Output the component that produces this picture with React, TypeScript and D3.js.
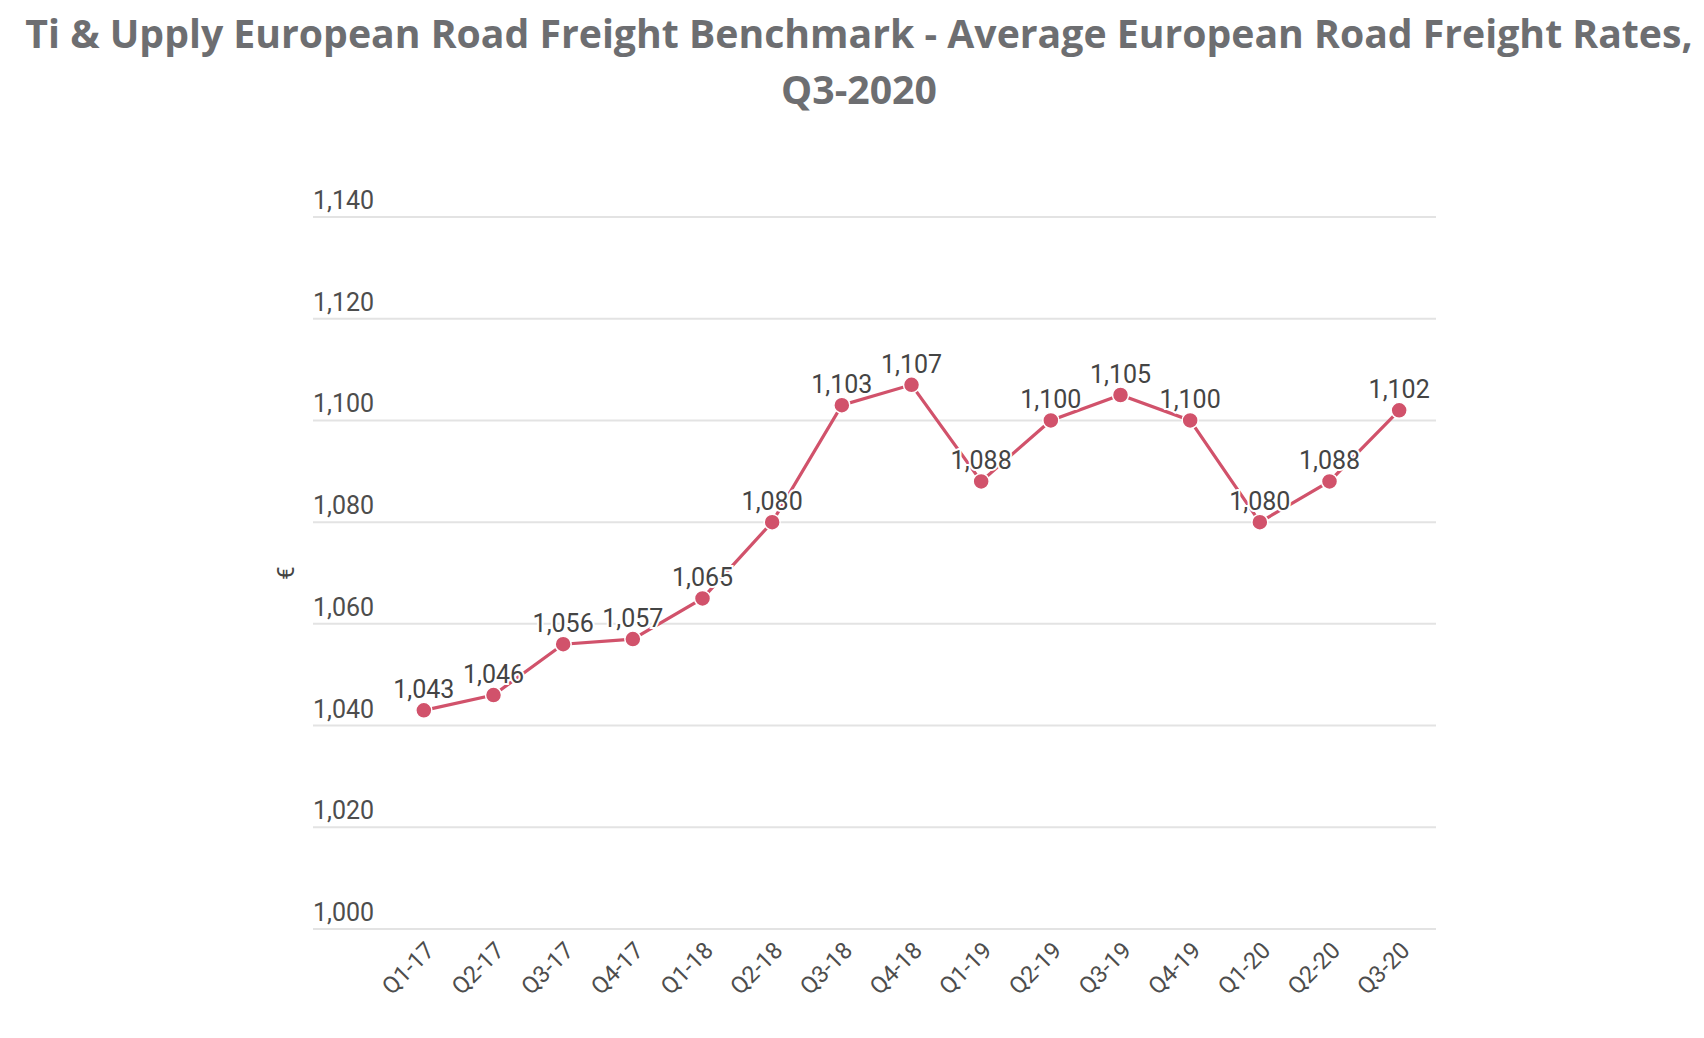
import { useEffect, useRef } from 'react';
import * as d3 from 'd3';

const quarters = [
  'Q1-17', 'Q2-17', 'Q3-17', 'Q4-17', 'Q1-18', 'Q2-18', 'Q3-18', 'Q4-18',
  'Q1-19', 'Q2-19', 'Q3-19', 'Q4-19', 'Q1-20', 'Q2-20', 'Q3-20',
];
const rates = [1043, 1046, 1056, 1057, 1065, 1080, 1103, 1107, 1088, 1100, 1105, 1100, 1080, 1088, 1102];
const yTicks = [1000, 1020, 1040, 1060, 1080, 1100, 1120, 1140];
const titleLines = [
  'Ti & Upply European Road Freight Benchmark - Average European Road Freight Rates,',
  'Q3-2020',
];

const W = 1704;
const H = 1038;
const RED = '#d1526b';

const App = () => {
  const ref = useRef<SVGSVGElement>(null);

  useEffect(() => {
    if (!ref.current) return;
    const svg = d3.select(ref.current);
    svg.selectAll('*').remove();

    const gridLeft = 313;
    const gridRight = 1436;
    const plotTop = 217;
    const plotBottom = 929;

    const x = d3.scaleBand<string>().domain(quarters).range([389, 1434]);
    const cx = (q: string) => (x(q) || 0) + x.bandwidth() / 2;
    const y = d3.scaleLinear().domain([1000, 1140]).range([plotBottom, plotTop]);
    const fmt = d3.format(',');

    // title
    svg.append('g')
      .selectAll('text')
      .data(titleLines)
      .enter()
      .append('text')
      .attr('x', 859)
      .attr('y', (_, i) => 48 + i * 56)
      .attr('text-anchor', 'middle')
      .style('font-family', '"Open Sans", sans-serif')
      .style('font-weight', 700)
      .style('font-size', '39.2px')
      .style('fill', '#6d6e71')
      .text(d => d);

    // grid + y labels
    const yAxis = svg.append('g');
    yAxis.selectAll('line')
      .data(yTicks)
      .enter()
      .append('line')
      .attr('x1', gridLeft)
      .attr('x2', gridRight)
      .attr('y1', d => y(d))
      .attr('y2', d => y(d))
      .attr('stroke', '#e3e3e3')
      .attr('stroke-width', 2);
    yAxis.selectAll('text')
      .data(yTicks)
      .enter()
      .append('text')
      .attr('x', gridLeft)
      .attr('y', d => y(d) - 8)
      .style('font-family', 'Roboto, sans-serif')
      .style('font-size', '25px')
      .style('fill', '#4d4d4d')
      .text(d => fmt(d));

    // y title
    svg.append('text')
      .attr('transform', `translate(294, ${(plotTop + plotBottom) / 2}) rotate(-90)`)
      .attr('text-anchor', 'middle')
      .style('font-family', 'Roboto, sans-serif')
      .style('font-size', '24px')
      .style('fill', '#444')
      .text('€');

    // x labels
    svg.append('g')
      .selectAll('text')
      .data(quarters)
      .enter()
      .append('text')
      .attr('transform', d => `translate(${cx(d) + 12}, 952) rotate(-45)`)
      .attr('text-anchor', 'end')
      .style('font-family', 'Roboto, sans-serif')
      .style('font-size', '23.5px')
      .style('fill', '#4d4d4d')
      .text(d => d);

    const pts = quarters.map((q, i) => ({ q, v: rates[i] }));

    const line = d3.line<{ q: string; v: number }>()
      .x(d => cx(d.q))
      .y(d => y(d.v));

    svg.append('path')
      .datum(pts)
      .attr('fill', 'none')
      .attr('stroke', RED)
      .attr('stroke-width', 3.2)
      .attr('d', line);

    svg.append('g')
      .selectAll('circle')
      .data(pts)
      .enter()
      .append('circle')
      .attr('cx', d => cx(d.q))
      .attr('cy', d => y(d.v))
      .attr('r', 8)
      .attr('fill', RED)
      .attr('stroke', '#fff')
      .attr('stroke-width', 1.5);

    // data labels with white halo
    svg.append('g')
      .selectAll('text')
      .data(pts)
      .enter()
      .append('text')
      .attr('x', d => cx(d.q))
      .attr('y', d => y(d.v) - 12)
      .attr('text-anchor', 'middle')
      .style('font-family', 'Roboto, sans-serif')
      .style('font-size', '25px')
      .style('fill', '#444')
      .style('stroke', '#fff')
      .style('stroke-width', 4)
      .style('paint-order', 'stroke')
      .text(d => fmt(d.v));
  }, []);

  return (
    <div style={{ position: 'absolute', left: 0, top: 0, background: '#fff' }}>
      <svg ref={ref} width={W} height={H} />
    </div>
  );
};

export default App;
